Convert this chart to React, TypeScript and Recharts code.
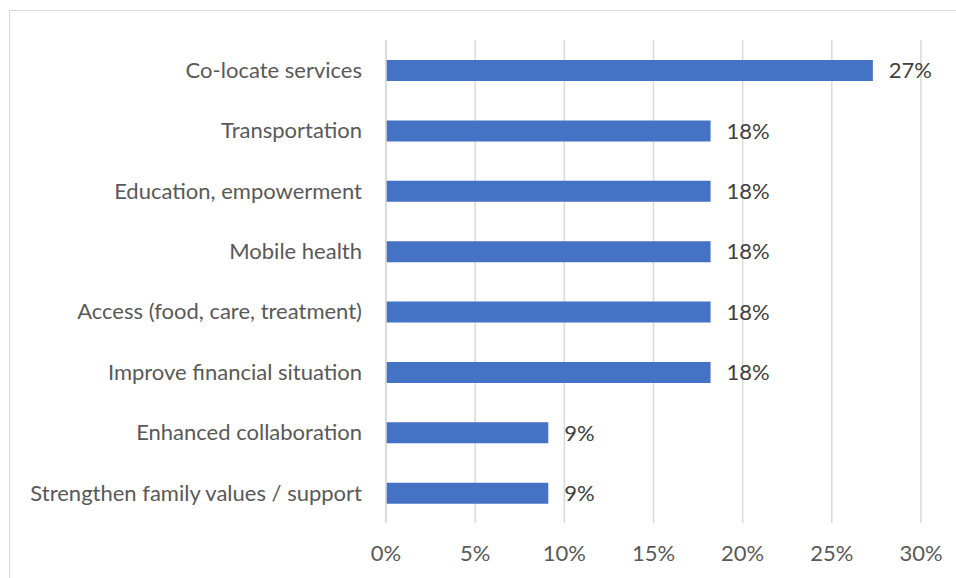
import {
  Bar,
  BarChart,
  CartesianGrid,
  LabelList,
  XAxis,
  YAxis,
} from "recharts";

const categories = [
  "Co-locate services",
  "Transportation",
  "Education, empowerment",
  "Mobile health",
  "Access (food, care, treatment)",
  "Improve financial situation",
  "Enhanced collaboration",
  "Strengthen family values / support",
];
const shares = [27.3, 18.2, 18.2, 18.2, 18.2, 18.2, 9.1, 9.1];
const xTicks = [0, 5, 10, 15, 20, 25, 30];

const FONT = "Lato, 'Open Sans', sans-serif";
const TEXT = "#595959";
const GRID = "#d9d9d9";

export default function App() {
  const data = categories.map((name, i) => ({ name, value: shares[i] }));
  return (
    <div
      style={{
        position: "absolute",
        left: 0,
        top: 0,
        width: 956,
        height: 578,
        background: "#fff",
        fontFamily: FONT,
      }}
    >
      <div
        style={{
          position: "absolute",
          left: 9,
          top: 10,
          width: 960,
          height: 580,
          border: `1px solid ${GRID}`,
        }}
      />
      <div style={{ position: "absolute", left: 0, top: 0 }}>
        <BarChart
          width={956}
          height={578}
          data={data}
          layout="vertical"
          margin={{ top: 40, right: 35, left: 0, bottom: 25 }}
          barSize={21}
        >
          <CartesianGrid stroke={GRID} strokeWidth={1.5} horizontal={false} />
          <XAxis
            type="number"
            domain={[0, 30]}
            ticks={xTicks}
            tickFormatter={(v) => `${v}%`}
            axisLine={false}
            tickLine={false}
            tickSize={0}
            tickMargin={22}
            height={30}
            tick={{ fontSize: 22, fill: TEXT, fontFamily: FONT }}
          />
          <YAxis
            type="category"
            dataKey="name"
            width={386}
            axisLine={{ stroke: GRID, strokeWidth: 1.5 }}
            tickLine={false}
            tickSize={0}
            tickMargin={24}
            interval={0}
            tick={{ fontSize: 22, fill: TEXT, fontFamily: FONT }}
          />
          <Bar dataKey="value" fill="#4472C4" isAnimationActive={false}>
            <LabelList
              dataKey="value"
              position="right"
              offset={16}
              formatter={(v: any) => `${Math.round(Number(v))}%`}
              style={{ fontSize: 22, fill: "#404040", fontFamily: FONT }}
            />
          </Bar>
        </BarChart>
      </div>
    </div>
  );
}
